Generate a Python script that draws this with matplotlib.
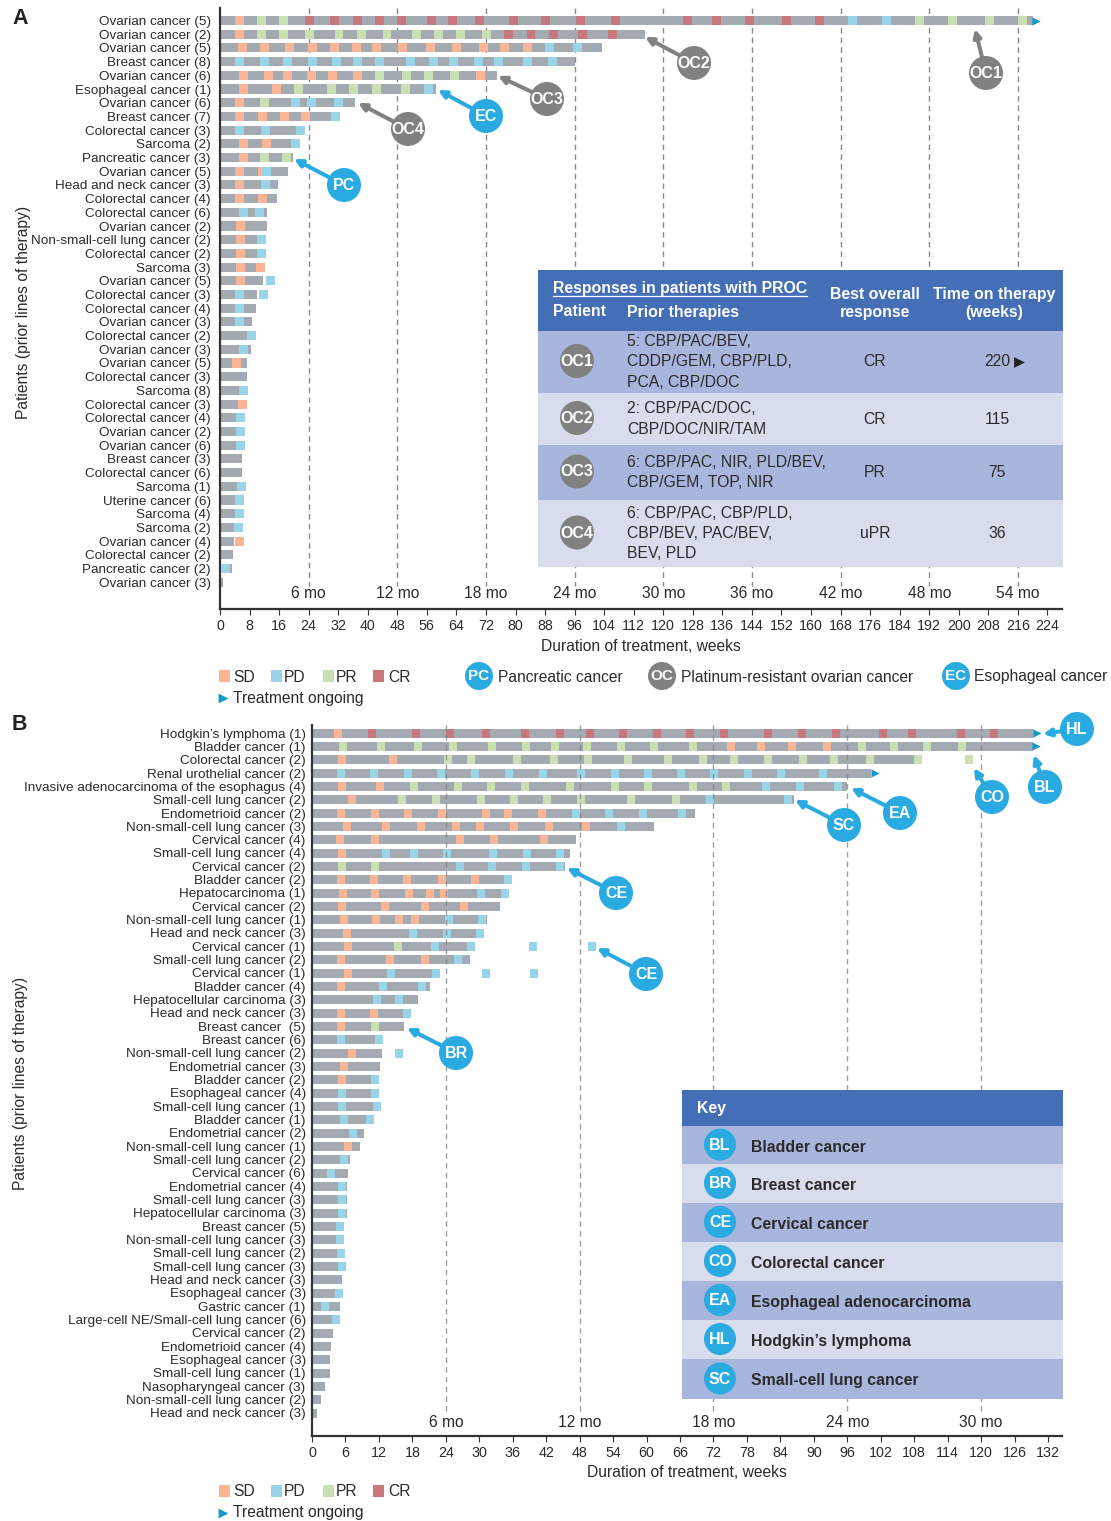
import matplotlib
matplotlib.use('Agg')
import matplotlib.pyplot as plt
from matplotlib.patches import Circle, Rectangle

plt.rcParams['font.family'] = ['Liberation Sans', 'DejaVu Sans']

W, H = 1111, 1521
GRAY = '#a3aab1'
COLORS = {'SD': '#fbb596', 'PD': '#99d5e9', 'PR': '#cae0b4', 'CR': '#c8777d'}
TEXT = '#2b2b2b'
BLUE = '#29abe2'
DARK = '#808281'
TRI = '#1399c6'

# ---- panel A data (rows numbered from the top) ----
a_labels = [
    'Ovarian cancer (5)', 'Ovarian cancer (2)', 'Ovarian cancer (5)', 'Breast cancer (8)',
    'Ovarian cancer (6)', 'Esophageal cancer (1)', 'Ovarian cancer (6)', 'Breast cancer (7)',
    'Colorectal cancer (3)', 'Sarcoma (2)', 'Pancreatic cancer (3)', 'Ovarian cancer (5)',
    'Head and neck cancer (3)', 'Colorectal cancer (4)', 'Colorectal cancer (6)', 'Ovarian cancer (2)',
    'Non-small-cell lung cancer (2)', 'Colorectal cancer (2)', 'Sarcoma (3)', 'Ovarian cancer (5)',
    'Colorectal cancer (3)', 'Colorectal cancer (4)', 'Ovarian cancer (3)', 'Colorectal cancer (2)',
    'Ovarian cancer (3)', 'Ovarian cancer (5)', 'Colorectal cancer (3)', 'Sarcoma (8)',
    'Colorectal cancer (3)', 'Colorectal cancer (4)', 'Ovarian cancer (2)', 'Ovarian cancer (6)',
    'Breast cancer (3)', 'Colorectal cancer (6)', 'Sarcoma (1)', 'Uterine cancer (6)',
    'Sarcoma (4)', 'Sarcoma (2)', 'Ovarian cancer (4)', 'Colorectal cancer (2)',
    'Pancreatic cancer (2)', 'Ovarian cancer (3)',
]
a_end = [220, 115, 103.4, 96.1, 75, 58.5, 36.6, 32.5, 23, 21.7, 19.8, 18.4, 15.7, 15.4, 12.7, 12.7,
         12.5, 12.5, 12.2, 11.6, 10, 9.7, 8.7, 9.7, 8.4, 7.3, 7.3, 7.6, 7.3, 6.8, 6.8, 6.8,
         6, 6, 7, 6.5, 6.5, 6.2, 3.8, 3.5, 3.2, 0.8]
a_sd = {
    1: [4], 2: [4],
    3: [4.9, 10.8, 17.6, 23.8, 29.8, 35.7, 41.2, 48.2, 55.8, 62.8, 70.1, 75.8, 82],
    5: [5.1, 11.9, 17.1, 23.6, 29.2, 36, 69.3], 6: [5.1, 14.1], 7: [4.1],
    8: [4.1, 10.3, 16.2, 21.9], 10: [5.1, 11.4], 11: [5.1], 12: [4.1, 10.3], 13: [4.1],
    14: [4.1, 10.3], 16: [4.3], 17: [4.3], 18: [4.3], 19: [4.3, 9.7], 20: [4.3],
    26: [3.2], 29: [4.9], 39: [4.1],
}
a_pd = {
    3: [88, 95.6],
    4: [4.1, 10.8, 17.1, 23.8, 30.3, 36, 42, 50.4, 56.6, 62, 68.8, 74.2, 82, 88.8],
    1: [170, 179.3], 6: [55.2], 7: [19.2, 23.6, 30.9], 8: [30.1], 9: [4.1, 11.1, 20.6],
    10: [19.2], 12: [11.4], 13: [11.1], 15: [5.1, 9.5], 17: [10], 18: [10], 20: [12.5],
    21: [4.1, 10.6], 22: [4.1], 23: [4.1], 24: [7.3], 25: [5.1], 28: [5.1], 30: [4.3],
    31: [4.3], 32: [4.3], 35: [4.6], 36: [4.1], 37: [4.1], 38: [3.8], 41: [0.2],
}
a_pr = {
    1: [10, 16, 188.2, 197.1, 207.1, 216.1],
    2: [10, 16, 23, 31, 37, 44, 52, 58, 64, 71],
    5: [42, 49.3, 55.2, 62.3], 6: [20, 29, 34.9, 41.2, 49], 7: [10.8], 11: [10.8, 16.8],
}
a_cr = {
    1: [23, 29.8, 36, 42, 47.9, 56, 61.7, 69, 78.2, 86.9, 96.4, 105.9, 125.3, 133.2, 142.2, 152.2, 161.1],
    2: [77, 83, 89, 97, 105],
}
a_ongoing = [1]
a_ticks = list(range(0, 225, 8))
a_month_weeks = list(range(24, 217, 24))
a_months = ['6 mo', '12 mo', '18 mo', '24 mo', '30 mo', '36 mo', '42 mo', '48 mo', '54 mo']

# ---- panel B data ----
b_labels = [
    'Hodgkin’s lymphoma (1)', 'Bladder cancer (1)', 'Colorectal cancer (2)', 'Renal urothelial cancer (2)',
    'Invasive adenocarcinoma of the esophagus (4)', 'Small-cell lung cancer (2)', 'Endometrioid cancer (2)',
    'Non-small-cell lung cancer (3)', 'Cervical cancer (4)', 'Small-cell lung cancer (4)', 'Cervical cancer (2)',
    'Bladder cancer (2)', 'Hepatocarcinoma (1)', 'Cervical cancer (2)', 'Non-small-cell lung cancer (1)',
    'Head and neck cancer (3)', 'Cervical cancer (1)', 'Small-cell lung cancer (2)', 'Cervical cancer (1)',
    'Bladder cancer (4)', 'Hepatocellular carcinoma (3)', 'Head and neck cancer (3)', 'Breast cancer  (5)',
    'Breast cancer (6)', 'Non-small-cell lung cancer (2)', 'Endometrial cancer (3)', 'Bladder cancer (2)',
    'Esophageal cancer (4)', 'Small-cell lung cancer (1)', 'Bladder cancer (1)', 'Endometrial cancer (2)',
    'Non-small-cell lung cancer (1)', 'Small-cell lung cancer (2)', 'Cervical cancer (6)', 'Endometrial cancer (4)',
    'Small-cell lung cancer (3)', 'Hepatocellular carcinoma (3)', 'Breast cancer (5)',
    'Non-small-cell lung cancer (3)', 'Small-cell lung cancer (2)', 'Small-cell lung cancer (3)',
    'Head and neck cancer (3)', 'Esophageal cancer (3)', 'Gastric cancer (1)',
    'Large-cell NE/Small-cell lung cancer (6)', 'Cervical cancer (2)', 'Endometrioid cancer (4)',
    'Esophageal cancer (3)', 'Small-cell lung cancer (1)', 'Nasopharyngeal cancer (3)',
    'Non-small-cell lung cancer (2)', 'Head and neck cancer (3)',
]
b_end = [129.5, 129.3, 109.4, 100.3, 96, 86.5, 68.7, 61.4, 47.3, 46.3, 45.4, 35.9, 35.3, 33.7, 31.4, 30.8,
         29.2, 28.3, 23, 21.2, 19, 17.8, 16.5, 12.7, 12.6, 12.2, 12, 12, 12.4, 11.1, 9.3, 8.6, 6.8, 6.5,
         6.3, 6.3, 6.3, 5.7, 5.7, 5.9, 6.1, 5.4, 5.6, 5, 5, 3.8, 3.4, 3.2, 3.2, 2.3, 1.6, 0.9]
b_sd = {
    1: [3.9], 2: [74.4, 79.8, 85.3, 91.6], 3: [4.7, 13.8], 5: [4.7, 11.5], 6: [6.5],
    7: [4.5, 10.6, 16.5, 22.6, 30.5, 34.4, 40.5], 8: [5.6, 12.6, 18.8, 25.1, 29.4, 35.5, 41.8, 48.4],
    9: [4.3, 10.6, 25.8, 31.9, 40.9], 10: [4.7], 12: [4.5, 10.4, 16.3, 22.6, 28.5],
    13: [4.8, 10.6, 16.7, 20.4, 23], 14: [4.7, 12.4, 19.5, 26.5], 15: [5, 10.8, 14.9, 17.8],
    16: [5.6], 17: [5.7], 18: [4.5, 13.3, 19.5], 19: [5.7], 20: [4.5], 22: [4.5, 10.4], 23: [4.5],
    25: [6.5], 26: [5], 27: [4.7], 32: [5.7],
}
b_pd = {
    4: [4.5, 10.4, 16.5, 22.4, 28.5, 34.6, 40.7, 47.5, 53.6, 59.6, 65.5, 71.4, 77.5, 83.4, 90.9],
    5: [80.7, 86.8, 93.7], 6: [70.7, 84.6], 7: [46.6, 52.6, 58.6, 65.6], 8: [54.7],
    10: [12.6, 17.6, 23.5, 31.7, 37.8, 43.8], 11: [25.8, 31.6, 37.7, 43.8], 12: [34.4], 13: [29.6, 33.9],
    15: [23.8, 29.8], 16: [17.4, 23.5, 29.4], 17: [21.3, 27.8, 38.9, 49.5], 18: [25.5],
    19: [13.4, 21.5, 30.5, 39.1], 20: [12, 19], 21: [10.9, 14.9], 22: [16.3], 24: [4.5, 11.3], 25: [14.9],
    27: [10.6], 28: [4.7, 10.6], 29: [4.7, 10.9], 30: [5, 9.7], 31: [6.6], 33: [5], 34: [2.7],
    35: [4.7], 36: [4.7], 37: [4.7], 38: [4.3], 39: [4.3], 40: [4.5], 41: [4.7], 43: [4.1], 44: [1.6], 45: [3.6],
}
b_pr = {
    2: [4.8, 11.7, 18.3, 24.6, 31.6, 37.7, 42.9, 48.6, 54.7, 60.6, 67.6, 97.9, 103.7, 109.6, 115.8],
    3: [23.7, 27.8, 36, 42.7, 48.8, 55.9, 63.1, 69.4, 74.9, 81, 87.3, 92.9, 99.4, 108, 117.1],
    5: [17.6, 25.5, 31.4, 37.5, 45.6, 53.6, 59.6, 67.6, 73.6],
    6: [15.4, 21.5, 29.6, 35.5, 41.4, 47.5, 56.5, 64.6], 11: [4.7, 10.6], 17: [14.7], 23: [10.6],
}
b_cr = {
    1: [10, 18, 24, 30.5, 37.5, 43.8, 49.2, 55, 61.1, 67.1, 73.1, 81.1, 87.1, 93.3, 101.7, 106.9, 115.7, 121.6],
}
b_ongoing = [1, 2, 4]
b_ticks = list(range(0, 133, 6))
b_month_weeks = [24, 48, 72, 96, 120]
b_months = ['6 mo', '12 mo', '18 mo', '24 mo', '30 mo']

# ---- table text ----
proc_patients = ['OC1', 'OC2', 'OC3', 'OC4']
proc_prior = ['5: CBP/PAC/BEV,\nCDDP/GEM, CBP/PLD,\nPCA, CBP/DOC', '2: CBP/PAC/DOC,\nCBP/DOC/NIR/TAM',
              '6: CBP/PAC, NIR, PLD/BEV,\nCBP/GEM, TOP, NIR', '6: CBP/PAC, CBP/PLD,\nCBP/BEV, PAC/BEV,\nBEV, PLD']
proc_response = ['CR', 'CR', 'PR', 'uPR']
proc_weeks = ['220', '115', '75', '36']
key_codes = ['BL', 'BR', 'CE', 'CO', 'EA', 'HL', 'SC']
key_names = ['Bladder cancer', 'Breast cancer', 'Cervical cancer', 'Colorectal cancer',
             'Esophageal adenocarcinoma', 'Hodgkin’s lymphoma', 'Small-cell lung cancer']

FS = 11.25


def px_axes(fig, left, right, top, bottom):
    return fig.add_axes([left / W, 1 - bottom / H, (right - left) / W, (bottom - top) / H])


def swimmer(ax, labels, end, events, ongoing, block, bar_h, ticks, tri_off):
    rows = list(range(1, len(labels) + 1))
    ax.barh(rows, end, height=bar_h, color=GRAY, zorder=2)
    for name, by_row in events.items():
        for row, weeks in by_row.items():
            ax.barh([row] * len(weeks), [block] * len(weeks), left=weeks, height=bar_h,
                    color=COLORS[name], zorder=3)
    ax.scatter([end[r - 1] + tri_off for r in ongoing], ongoing, marker='>', s=34, color=TRI,
               linewidths=0, zorder=5, clip_on=False)
    for s in ['top', 'right']:
        ax.spines[s].set_visible(False)
    for s in ['left', 'bottom']:
        ax.spines[s].set_linewidth(1.6)
        ax.spines[s].set_color('#333333')
    ax.set_yticks(rows)
    ax.set_yticklabels(labels, fontsize=9.7, color=TEXT)
    ax.set_xticks(ticks)
    ax.tick_params(axis='y', length=0)
    ax.tick_params(axis='x', length=4, width=0.8, color='#333333', labelsize=10.3, labelcolor=TEXT, pad=3)
    ax.patch.set_alpha(0)


def callout(over, code, cx, cy, tip, color, r=17, fs=11.5):
    over.annotate('', xy=tip, xytext=(cx, cy),
                  arrowprops=dict(arrowstyle='-|>', lw=2.9, color=color, shrinkA=0, shrinkB=0,
                                  mutation_scale=11))
    badge(over, code, cx, cy, color, r, fs)


def badge(over, code, cx, cy, color, r=17, fs=11.5):
    over.add_patch(Circle((cx, cy), r, color=color, lw=0, zorder=6))
    over.text(cx, cy + 0.5, code, color='white', fontsize=fs, fontweight='bold', ha='center', va='center', zorder=7)


def legend_row(over, y):
    for name, x, tx in [('SD', 219, 233), ('PD', 271, 284), ('PR', 323, 336), ('CR', 373, 388)]:
        over.add_patch(Rectangle((x, y - 6), 11, 12, color=COLORS[name], lw=0))
        over.text(tx, y + 1, name, fontsize=FS, color=TEXT, va='center')
    over.scatter([223], [y + 21.5], marker='>', s=50, color=TRI, linewidths=0)
    over.text(233, y + 22, 'Treatment ongoing', fontsize=FS, color=TEXT, va='center')


fig = plt.figure(figsize=(W / 100, H / 100), dpi=100)

# panel A
ax_a = px_axes(fig, 220, 1062, 8, 609)
a_px_wk = 827.4 / 224
a_row = 13.7
ax_a.set_xlim(0, 842 / a_px_wk)
ax_a.set_ylim(1 + (609 - 20.5) / a_row, 1 + (8 - 20.5) / a_row)
swimmer(ax_a, a_labels, a_end, {'SD': a_sd, 'PD': a_pd, 'PR': a_pr, 'CR': a_cr}, a_ongoing, 2.4, 0.66, a_ticks, 1.0)
ax_a.tick_params(axis='y', pad=6.5)
ax_a.vlines(a_month_weeks, ax_a.get_ylim()[1], 42.3, color='#8a8a8a', lw=1.0, linestyles=(0, (4, 3)), zorder=1)
for w, m in zip(a_month_weeks, a_months):
    ax_a.text(w, 42.83, m, fontsize=FS, color=TEXT, ha='center', va='center')

# panel B
ax_b = px_axes(fig, 312, 1062, 725, 1436)
b_px_wk = 736 / 132
b_row = 680 / 51
ax_b.set_xlim(0, 750 / b_px_wk)
ax_b.set_ylim(1 + (1436 - 733) / b_row, 1 + (725 - 733) / b_row)
swimmer(ax_b, b_labels, b_end, {'SD': b_sd, 'PD': b_pd, 'PR': b_pr, 'CR': b_cr}, b_ongoing, 1.43, 0.675, b_ticks, 0.6)
ax_b.tick_params(axis='y', pad=4.5)
ax_b.vlines(b_month_weeks, ax_b.get_ylim()[1], 51.9, color='#808080', lw=1.0, alpha=0.75,
            linestyles=(0, (4, 3)), zorder=4)
for w, m in zip(b_month_weeks, b_months):
    ax_b.text(w, 52.72, m, fontsize=FS, color=TEXT, ha='center', va='center')

# overlay in pixel units for tables, callouts and legends
over = fig.add_axes([0, 0, 1, 1], zorder=10)
over.set_xlim(0, W)
over.set_ylim(H, 0)
over.axis('off')

over.text(12, 18, 'A', fontsize=15.5, fontweight='bold', color='#222222', va='center')
over.text(12, 724, 'B', fontsize=15.5, fontweight='bold', color='#222222', va='center')
over.text(24, 312, 'Patients (prior lines of therapy)', rotation=90, fontsize=FS, color=TEXT, ha='center', va='center')
over.text(21, 1083, 'Patients (prior lines of therapy)', rotation=90, fontsize=FS, color=TEXT, ha='center', va='center')
over.text(641, 646.5, 'Duration of treatment, weeks', fontsize=FS, color=TEXT, ha='center', va='center')
over.text(687, 1472.5, 'Duration of treatment, weeks', fontsize=FS, color=TEXT, ha='center', va='center')

for code, cx, cy, tip in [('OC1', 986, 73, (975, 29)), ('OC2', 694, 63, (645, 37)), ('OC3', 547, 99, (498, 76)),
                          ('OC4', 408, 129, (358, 103))]:
    callout(over, code, cx, cy, tip, DARK)
for code, cx, cy, tip in [('EC', 486, 116, (438, 90)), ('PC', 344, 185, (294, 159)),
                          ('HL', 1077, 729, (1043, 734)), ('BL', 1045, 787, (1034, 755)),
                          ('CO', 992, 797, (974, 768)), ('EA', 900, 813, (851, 788)),
                          ('SC', 844, 825, (795, 800)), ('CE', 616, 893, (567, 868)),
                          ('CE', 646, 974, (597, 948)), ('BR', 456, 1053, (407, 1028))]:
    callout(over, code, cx, cy, tip, BLUE)

# legends
legend_row(over, 676)
legend_row(over, 1491)
for code, cx, color, tx, name in [('PC', 479, BLUE, 498, 'Pancreatic cancer'),
                                  ('OC', 662, DARK, 681, 'Platinum-resistant ovarian cancer'),
                                  ('EC', 956, BLUE, 974, 'Esophageal cancer')]:
    badge(over, code, cx, 676, color, r=14, fs=11)
    over.text(tx, 677, name, fontsize=FS, color=TEXT, va='center')

# PROC table
HEAD = '#446fb7'
ROW_D = '#a8b5dc'
ROW_L = '#d8dded'
HFS = 11.4
over.add_patch(Rectangle((538, 270), 525, 61, color=HEAD, lw=0, zorder=3))
over.text(553, 288.5, 'Responses in patients with PROC', fontsize=HFS, fontweight='bold', color='white', va='center', zorder=4)
over.plot([553, 807], [295.5, 295.5], color='white', lw=0.9, zorder=4)
over.text(553, 312, 'Patient', fontsize=HFS, fontweight='bold', color='white', va='center', zorder=4)
over.text(627, 312, 'Prior therapies', fontsize=HFS, fontweight='bold', color='white', va='center', zorder=4)
over.text(875, 303.5, 'Best overall\nresponse', fontsize=HFS, fontweight='bold', color='white', ha='center', va='center', linespacing=1.2, zorder=4)
over.text(994.5, 303.5, 'Time on therapy\n(weeks)', fontsize=HFS, fontweight='bold', color='white', ha='center', va='center', linespacing=1.2, zorder=4)
edges = [331, 393, 445, 500, 567]
for i in range(4):
    top, bot = edges[i], edges[i + 1]
    mid = (top + bot) / 2
    over.add_patch(Rectangle((538, top), 525, bot - top, color=ROW_D if i % 2 == 0 else ROW_L, lw=0, zorder=3))
    badge(over, proc_patients[i], 577, mid - 1, DARK, r=17, fs=11.5)
    over.text(627, mid, proc_prior[i], fontsize=HFS - 0.05, color=TEXT, va='center', linespacing=1.42, zorder=4)
    over.text(875, mid, proc_response[i], fontsize=HFS - 0.05, color=TEXT, ha='center', va='center', zorder=4)
    over.text(997, mid, proc_weeks[i], fontsize=HFS - 0.05, color=TEXT, ha='center', va='center', zorder=4)
over.scatter([1019], [362], marker='>', s=60, color='#222222', linewidths=0, zorder=5)

# key table
over.add_patch(Rectangle((682, 1090), 381, 36, color=HEAD, lw=0, zorder=3))
over.text(697, 1108, 'Key', fontsize=HFS, fontweight='bold', color='white', va='center', zorder=4)
key_edges = [1126, 1164, 1203, 1242, 1281, 1320, 1359, 1399]
for i, (code, name) in enumerate(zip(key_codes, key_names)):
    top, bot = key_edges[i], key_edges[i + 1]
    mid = (top + bot) / 2
    over.add_patch(Rectangle((682, top), 381, bot - top, color=ROW_D if i % 2 == 0 else ROW_L, lw=0, zorder=3))
    badge(over, code, 720, mid - 0.5, BLUE, r=16, fs=11.5)
    over.text(751, mid + 2, name, fontsize=HFS, fontweight='bold', color=TEXT, va='center', zorder=4)

fig.savefig('out.png', dpi=100)
